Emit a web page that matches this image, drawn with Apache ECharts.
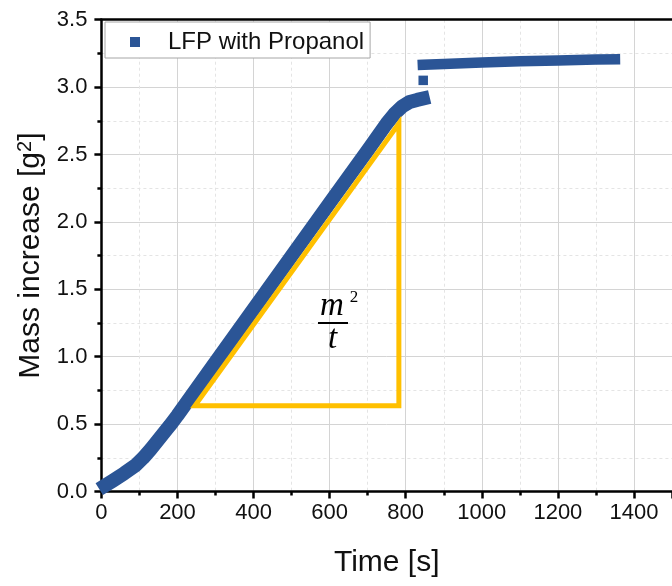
<!DOCTYPE html>
<html><head><meta charset="utf-8">
<script src="https://cdn.jsdelivr.net/npm/echarts@6/dist/echarts.min.js"></script>
<style>html,body{margin:0;padding:0;background:#fff}#c{width:672px;height:586px}</style>
</head><body><div id="c"></div>
<script>
const seriesName = 'LFP with Propanol';
const rampTime = [10, 30, 60, 90, 110, 130, 150, 180, 200, 300, 400, 500, 600, 700, 750, 770, 790, 810, 830, 845];
const rampMass = [0.045, 0.08, 0.135, 0.195, 0.25, 0.315, 0.385, 0.49, 0.565, 0.96, 1.353, 1.747, 2.14, 2.53, 2.73, 2.80, 2.855, 2.89, 2.905, 2.915];
const jumpTime = [846];
const jumpMass = [3.05];
const plateauTime = [845, 900, 1000, 1100, 1200, 1300, 1350];
const plateauMass = [3.165, 3.172, 3.183, 3.192, 3.198, 3.204, 3.206];
const triangleTime = [246, 782, 782, 246, 782];
const triangleMass = [0.637, 0.637, 2.73, 0.637, 0.637];
const xTickLabels = ['0', '200', '400', '600', '800', '1000', '1200', '1400'];
const yTickLabels = ['0.0', '0.5', '1.0', '1.5', '2.0', '2.5', '3.0', '3.5'];

const zip = (a, b) => a.map((v, i) => [v, b[i]]);
const FONT = "'Liberation Sans', Arial, sans-serif";
const BLUE = '#2b5596';
const YEL = '#ffc000';

const chart = echarts.init(document.getElementById('c'), null, {renderer: 'canvas'});
chart.setOption({
  animation: false,
  backgroundColor: '#fff',
  grid: {left: 101.4, top: 19.7, width: 573.5, height: 471.8, containLabel: false},
  legend: {
    data: [{name: seriesName, icon: 'rect'}],
    left: 105, top: 22,
    padding: [8, 6, 4, 25],
    itemWidth: 10, itemHeight: 10,
    backgroundColor: '#fff', borderColor: '#a6a6a6', borderWidth: 1,
    textStyle: {fontFamily: FONT, fontSize: 24, color: '#111', padding: [0, 0, 0, 23], lineHeight: 24},
    z: 10
  },
  xAxis: [{
    type: 'value', min: 0, max: 1500, interval: 200,
    name: 'Time [s]', nameLocation: 'middle', nameGap: 56,
    nameTextStyle: {fontFamily: FONT, fontSize: 30, color: '#111'},
    axisLine: {show: true, onZero: false, lineStyle: {color: '#000', width: 2.5}},
    axisTick: {show: true, length: 7, lineStyle: {color: '#000', width: 2.5}},
    minorTick: {show: true, splitNumber: 2, length: 4, lineStyle: {color: '#000', width: 2.5}},
    axisLabel: {fontFamily: FONT, fontSize: 22, color: '#111', margin: 10, showMaxLabel: false,
      formatter: v => { const i = Math.round(v / 200); return (v % 200 === 0 && xTickLabels[i] !== undefined) ? xTickLabels[i] : ''; }},
    splitLine: {show: true, showMinLine: false, lineStyle: {color: '#d4d4d4', width: 1}},
    minorSplitLine: {show: true, lineStyle: {color: '#e4e4e4', width: 1, type: [3, 3]}}
  }, {
    type: 'value', min: 0, max: 1500, position: 'top', z: 5,
    axisLine: {show: true, onZero: false, lineStyle: {color: '#000', width: 2.5}},
    axisTick: {show: false}, axisLabel: {show: false}, splitLine: {show: false}
  }],
  yAxis: {
    type: 'value', min: 0, max: 3.5, interval: 0.5,
    name: 'Mass increase [g{sup|2}]', nameLocation: 'middle', nameGap: 53,
    nameTextStyle: {fontFamily: FONT, fontSize: 30, color: '#111',
      rich: {sup: {fontFamily: FONT, fontSize: 20, color: '#111', verticalAlign: 'top', padding: [0, 0, 8, 0]}}},
    axisLine: {show: true, onZero: false, lineStyle: {color: '#000', width: 2.5}},
    axisTick: {show: true, length: 7, lineStyle: {color: '#000', width: 2.5}},
    minorTick: {show: true, splitNumber: 2, length: 4, lineStyle: {color: '#000', width: 2.5}},
    axisLabel: {fontFamily: FONT, fontSize: 22, color: '#111', margin: 14,
      formatter: v => { const i = Math.round(v / 0.5); return yTickLabels[i] !== undefined ? yTickLabels[i] : ''; }},
    splitLine: {show: true, showMinLine: false, showMaxLine: false, lineStyle: {color: '#d4d4d4', width: 1}},
    minorSplitLine: {show: true, lineStyle: {color: '#e4e4e4', width: 1, type: [3, 3]}}
  },
  series: [
    {name: seriesName, type: 'line', data: zip(rampTime, rampMass), symbol: 'none', clip: false,
      color: BLUE, lineStyle: {color: BLUE, width: 14, cap: 'square', join: 'round'}, z: 2, silent: true},
    {name: seriesName, type: 'line', data: zip(plateauTime, plateauMass), symbol: 'none',
      color: BLUE, lineStyle: {color: BLUE, width: 10.5, cap: 'square', join: 'round'}, z: 2, silent: true},
    {name: seriesName, type: 'scatter', data: zip(jumpTime, jumpMass), symbol: 'rect', symbolSize: 9.5,
      itemStyle: {color: BLUE, opacity: 1}, z: 2, silent: true},
    {name: 'triangle', type: 'line', data: zip(triangleTime, triangleMass), symbol: 'none',
      lineStyle: {color: YEL, width: 5, join: 'miter', cap: 'butt'}, z: 3, silent: true}
  ],
  graphic: [
    {type: 'text', z: 20, style: {text: 'm', x: 332, y: 306, align: 'center', verticalAlign: 'middle',
      font: 'italic 33px "Liberation Serif", serif', fill: '#000'}},
    {type: 'text', z: 20, style: {text: '2', x: 354, y: 298, align: 'center', verticalAlign: 'middle',
      font: '17px "Liberation Serif", serif', fill: '#000'}},
    {type: 'line', z: 20, shape: {x1: 318, y1: 323, x2: 348, y2: 323}, style: {stroke: '#000', lineWidth: 2}},
    {type: 'text', z: 20, style: {text: 't', x: 332.5, y: 339, align: 'center', verticalAlign: 'middle',
      font: 'italic 33px "Liberation Serif", serif', fill: '#000'}}
  ]
});
</script></body></html>
